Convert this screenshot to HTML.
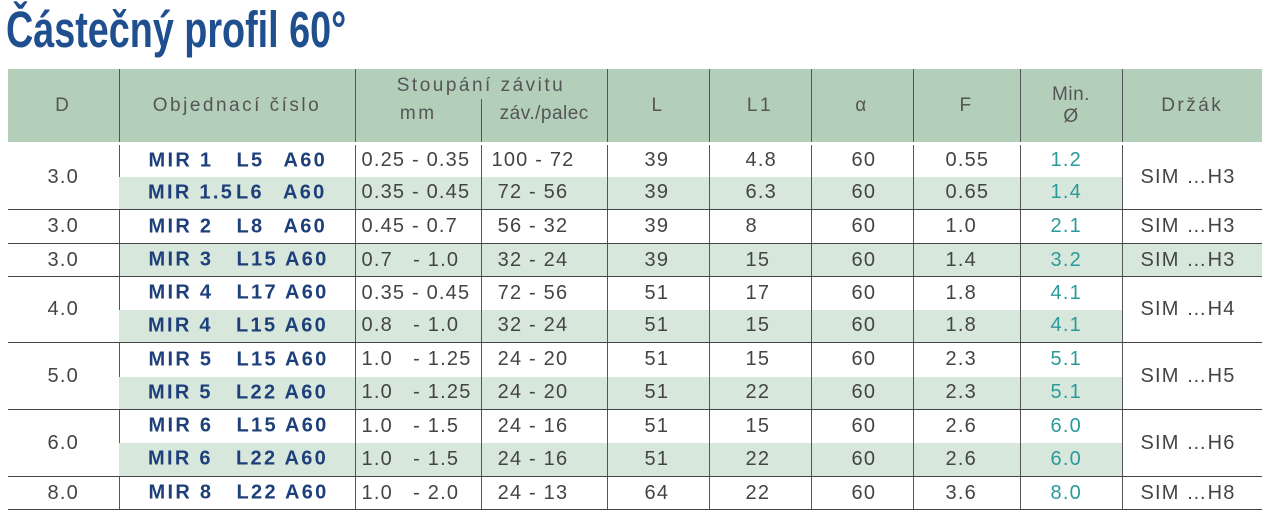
<!DOCTYPE html>
<html><head><meta charset="utf-8"><style>
body{margin:0;width:1271px;height:514px;background:#fff;position:relative;overflow:hidden;font-family:"Liberation Sans",sans-serif}
h1{position:absolute;left:6px;top:0px;margin:0;font-size:51px;font-weight:bold;color:#1f4f8f;transform:scaleX(0.74);transform-origin:left top;white-space:nowrap;letter-spacing:0px}
table{position:absolute;left:8px;top:69px;border-collapse:collapse;table-layout:fixed;width:1254px}
td{padding:0;font-size:20px;color:#444;letter-spacing:1.2px;white-space:nowrap;border-left:1px solid #555;vertical-align:middle;overflow:hidden}
td:first-child{border-left:none;text-align:center}
tr.h td{background:#b3cfba;height:73px;text-align:center;color:#555;font-size:19px;letter-spacing:2.5px;border-bottom:3px solid #fff}
tr.g td{background:#d8e7db}
tr.g td.w,td.w{background:#fff}
tr.b td,td.rb{border-bottom:1.5px solid #444}
td.o{font-weight:bold;color:#1d3f7a;letter-spacing:2.3px;position:relative}
td.o span{position:absolute;top:50%;transform:translateY(-50%)}
td.m{padding-left:6px}
td.p{text-align:center;padding-right:22px}
td.l{padding-left:37px}
td.l1{padding-left:36px}
td.a{padding-left:40px}
td.f{padding-left:32px}
td.n{padding-left:30px;color:#2a9a9a}
td.d{padding-left:18px}
</style></head><body>
<h1>Částečný profil 60°</h1>
<table>
<colgroup><col style="width:111px"><col style="width:236px"><col style="width:126px"><col style="width:126px"><col style="width:102px"><col style="width:102px"><col style="width:102px"><col style="width:107px"><col style="width:102px"><col style="width:140px"></colgroup>
<tr class="h"><td>D</td><td>Objednací číslo</td><td colspan="2" style="position:relative;padding:0"><div style="position:absolute;top:6px;left:0;width:100%">Stoupání závitu</div><div style="position:absolute;top:34px;left:0;width:50%">mm</div><div style="position:absolute;top:30px;left:50%;width:50%;height:43px;border-left:1px solid #555;letter-spacing:0.5px;padding-top:4px;box-sizing:border-box">záv./palec</div></td><td>L</td><td>L1</td><td>α</td><td>F</td><td style="line-height:22px;letter-spacing:0.5px">Min.<br>Ø</td><td>Držák</td></tr>
<tr style="height:33px"><td rowspan="2" class="w rb">3.0</td><td class="o"><span style="left:29px">MIR 1</span><span style="left:117px">L5</span><span style="left:164px">A60</span></td><td class="m">0.25 - 0.35</td><td class="p">100 - 72</td><td class="l">39</td><td class="l1">4.8</td><td class="a">60</td><td class="f">0.55</td><td class="n">1.2</td><td rowspan="2" class="d w rb">SIM …H3</td></tr>
<tr class="g b" style="height:33px"><td class="o"><span style="left:29px">MIR 1.5</span><span style="left:117px">L6</span><span style="left:164px">A60</span></td><td class="m">0.35 - 0.45</td><td class="p">72 - 56</td><td class="l">39</td><td class="l1">6.3</td><td class="a">60</td><td class="f">0.65</td><td class="n">1.4</td></tr>
<tr class="b" style="height:34px"><td>3.0</td><td class="o"><span style="left:29px">MIR 2</span><span style="left:117px">L8</span><span style="left:164px">A60</span></td><td class="m">0.45 - 0.7</td><td class="p">56 - 32</td><td class="l">39</td><td class="l1">8</td><td class="a">60</td><td class="f">1.0</td><td class="n">2.1</td><td class="d">SIM …H3</td></tr>
<tr class="g b" style="height:33px"><td class="w">3.0</td><td class="o"><span style="left:29px">MIR 3</span><span style="left:117px">L15 A60</span></td><td class="m">0.7 &nbsp; - 1.0</td><td class="p">32 - 24</td><td class="l">39</td><td class="l1">15</td><td class="a">60</td><td class="f">1.4</td><td class="n">3.2</td><td class="d">SIM …H3</td></tr>
<tr style="height:33px"><td rowspan="2" class="w rb">4.0</td><td class="o"><span style="left:29px">MIR 4</span><span style="left:117px">L17 A60</span></td><td class="m">0.35 - 0.45</td><td class="p">72 - 56</td><td class="l">51</td><td class="l1">17</td><td class="a">60</td><td class="f">1.8</td><td class="n">4.1</td><td rowspan="2" class="d w rb">SIM …H4</td></tr>
<tr class="g b" style="height:33px"><td class="o"><span style="left:29px">MIR 4</span><span style="left:117px">L15 A60</span></td><td class="m">0.8 &nbsp; - 1.0</td><td class="p">32 - 24</td><td class="l">51</td><td class="l1">15</td><td class="a">60</td><td class="f">1.8</td><td class="n">4.1</td></tr>
<tr style="height:34px"><td rowspan="2" class="w rb">5.0</td><td class="o"><span style="left:29px">MIR 5</span><span style="left:117px">L15 A60</span></td><td class="m">1.0 &nbsp; - 1.25</td><td class="p">24 - 20</td><td class="l">51</td><td class="l1">15</td><td class="a">60</td><td class="f">2.3</td><td class="n">5.1</td><td rowspan="2" class="d w rb">SIM …H5</td></tr>
<tr class="g b" style="height:33px"><td class="o"><span style="left:29px">MIR 5</span><span style="left:117px">L22 A60</span></td><td class="m">1.0 &nbsp; - 1.25</td><td class="p">24 - 20</td><td class="l">51</td><td class="l1">22</td><td class="a">60</td><td class="f">2.3</td><td class="n">5.1</td></tr>
<tr style="height:33px"><td rowspan="2" class="w rb">6.0</td><td class="o"><span style="left:29px">MIR 6</span><span style="left:117px">L15 A60</span></td><td class="m">1.0 &nbsp; - 1.5</td><td class="p">24 - 16</td><td class="l">51</td><td class="l1">15</td><td class="a">60</td><td class="f">2.6</td><td class="n">6.0</td><td rowspan="2" class="d w rb">SIM …H6</td></tr>
<tr class="g b" style="height:34px"><td class="o"><span style="left:29px">MIR 6</span><span style="left:117px">L22 A60</span></td><td class="m">1.0 &nbsp; - 1.5</td><td class="p">24 - 16</td><td class="l">51</td><td class="l1">22</td><td class="a">60</td><td class="f">2.6</td><td class="n">6.0</td></tr>
<tr class="b" style="height:33px"><td>8.0</td><td class="o"><span style="left:29px">MIR 8</span><span style="left:117px">L22 A60</span></td><td class="m">1.0 &nbsp; - 2.0</td><td class="p">24 - 13</td><td class="l">64</td><td class="l1">22</td><td class="a">60</td><td class="f">3.6</td><td class="n">8.0</td><td class="d">SIM …H8</td></tr>
</table>
</body></html>
